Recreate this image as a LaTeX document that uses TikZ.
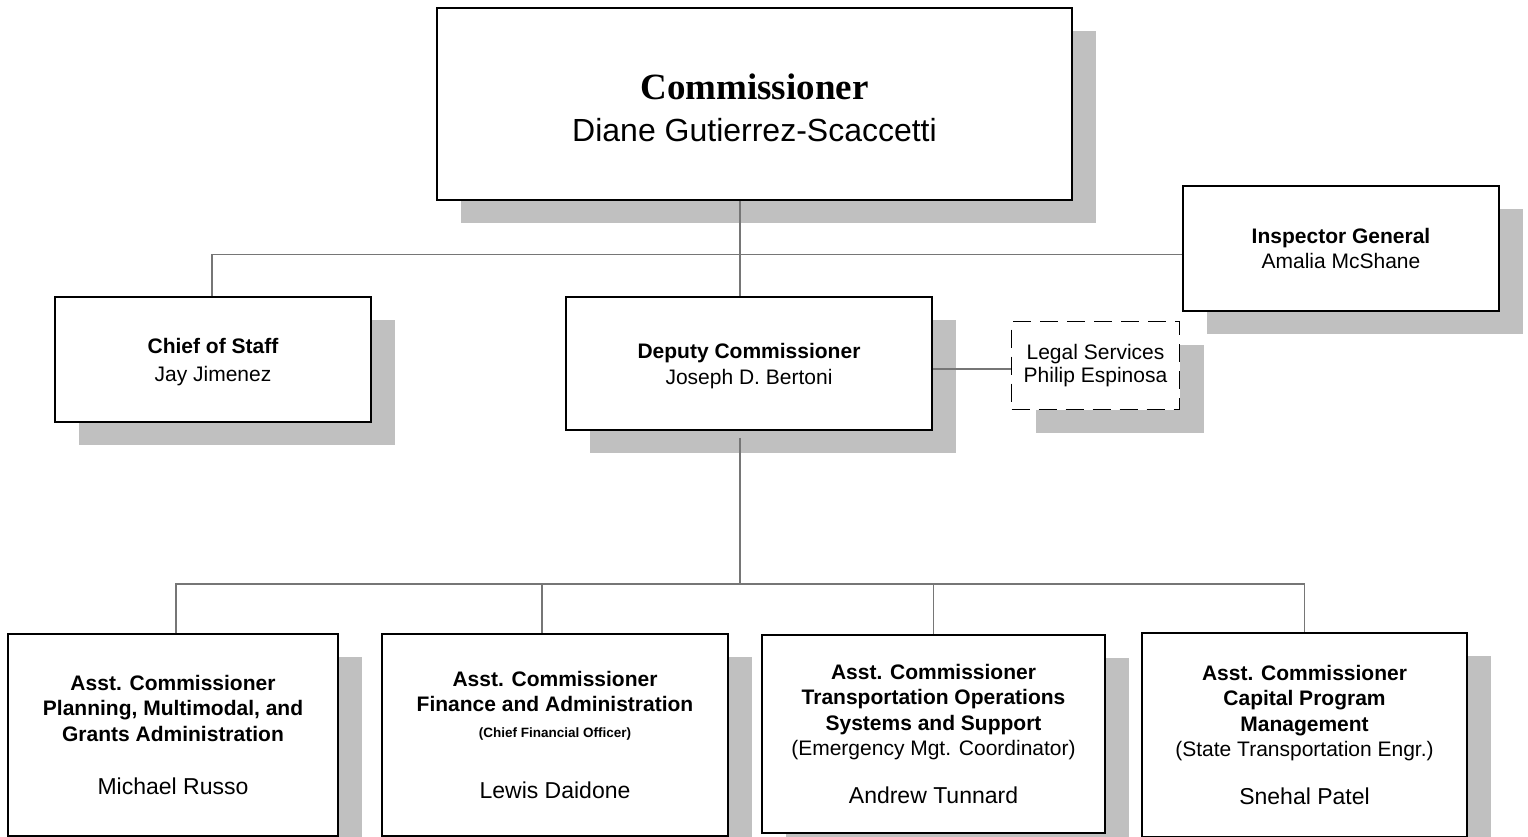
\documentclass[tikz,border=0pt]{standalone}
\usepackage{fontspec}
\setmainfont{Liberation Sans}
\newfontfamily\serifface{Liberation Serif}
\usetikzlibrary{shadows}
\definecolor{shadowgray}{HTML}{C0C0C0}
\definecolor{linegray}{HTML}{767676}
\tikzset{
  orgbox/.style={draw=black, line width=1.5pt, fill=white, align=center, inner sep=0pt,
    drop shadow={shadow xshift=24pt, shadow yshift=-23pt, opacity=1, fill=shadowgray}},
  legfont/.style={font=\fontsize{21}{23.4}\selectfont},
  cosfont/.style={font=\fontsize{21}{28}\selectfont},
  depfont/.style={font=\fontsize{21}{26}\selectfont},
  igfont/.style={font=\fontsize{21}{25.6}\selectfont},
  lowfont/.style={font=\fontsize{21}{25.3}\selectfont},
  conn/.style={draw=linegray, line width=1.6pt},
}
\begin{document}
\begin{tikzpicture}[x=1pt,y=-1pt]
\useasboundingbox (0,0) rectangle (1528,836);
\clip (0,0) rectangle (1528,836);

\node[orgbox, minimum width=635, minimum height=192, font=\fontsize{32}{42}\selectfont] (comm) at (754.5,104)
  {\rule{0pt}{33pt}{\serifface\bfseries\fontsize{37}{42}\selectfont Commissioner}\\Diane Gutierrez-Scaccetti};
\node[orgbox, igfont, minimum width=316, minimum height=125] (ig) at (1341,248.5)
  {\textbf{Inspector General}\\Amalia McShane};
\node[orgbox, cosfont, minimum width=316, minimum height=125] (cos) at (213,359.5)
  {\rule{0pt}{21pt}\textbf{Chief of Staff}\\Jay Jimenez};
\node[orgbox, depfont, minimum width=366, minimum height=133] (dep) at (749,363.5)
  {\rule{0pt}{19.5pt}\textbf{Deputy Commissioner}\\Joseph D. Bertoni};
\node[orgbox, legfont, dash pattern=on 18pt off 9pt, minimum width=168, minimum height=88] (legal) at (1095.5,365.5)
  {Legal Services\\Philip Espinosa};

\node[orgbox, lowfont, minimum width=330, minimum height=202] (ac1) at (173,735)
  {\textbf{Asst. Commissioner}\\\textbf{Planning, Multimodal, and}\\\textbf{Grants Administration}\\[28pt]{\fontsize{23}{25.3}\selectfont Michael Russo}};
\node[orgbox, lowfont, minimum width=346, minimum height=202] (ac2) at (555,735)
  {\textbf{Asst. Commissioner}\\\textbf{Finance and Administration}\\{\fontsize{13.5}{16}\selectfont\bfseries (Chief Financial Officer)}\\[36pt]{\fontsize{23}{25.3}\selectfont Lewis Daidone}};
\node[orgbox, lowfont, minimum width=343, minimum height=198] (ac3) at (933.5,734)
  {\textbf{Asst. Commissioner}\\\textbf{Transportation Operations}\\\textbf{Systems and Support}\\(Emergency Mgt. Coordinator)\\[23pt]{\fontsize{23}{25.3}\selectfont Andrew Tunnard}};
\node[orgbox, lowfont, minimum width=325, minimum height=204] (ac4) at (1304.5,735)
  {\textbf{Asst. Commissioner}\\\textbf{Capital Program}\\\textbf{Management}\\(State Transportation Engr.)\\[23pt]{\fontsize{23}{25.3}\selectfont Snehal Patel}};

\coordinate (trunk) at (740,254.5);
\coordinate (hbar) at (212,254.5);
\coordinate (legline) at (970,369);
\coordinate (bus) at (740,584);
\coordinate (drop1) at (176,584);
\coordinate (drop2) at (542,584);

\draw[conn] (comm.south -| trunk) -- (dep.north -| trunk);
\draw[conn] (cos.north -| hbar) -- (hbar) -- (hbar -| ig.west);
\draw[conn] (dep.east |- legline) -- (legal.west |- legline);
\draw[conn] ([yshift=-7pt]dep.south -| trunk) -- (bus);
\draw[conn] (ac1.north -| drop1) -- (drop1) -- (ac4.north |- bus) -- (ac4.north);
\draw[conn] (drop2) -- (ac2.north -| drop2);
\draw[conn] (ac3.north |- bus) -- (ac3.north);
\end{tikzpicture}
\end{document}
